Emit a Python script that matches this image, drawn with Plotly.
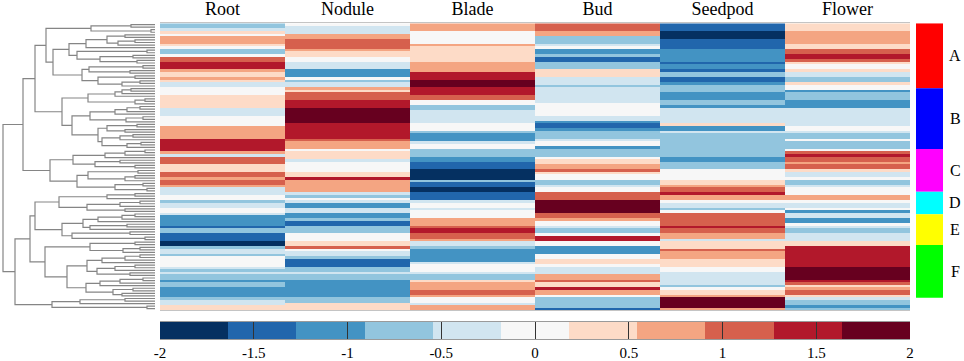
import plotly.graph_objects as go

# ---- value levels (bin centres of the 11-class RdBu scale, -2..2) ----
N, B2, B3, L, VL, W, P, S, R, DR, M = -1.8, -1.5, -1.1, -0.7, -0.4, 0.0, 0.4, 0.7, 1.1, 1.5, 1.8

tissues = ["Root", "Nodule", "Blade", "Bud", "Seedpod", "Flower"]

root = [L, L, VL, P, W, S, S, S, P, W,
        L, L, W, R, R, DR, DR, DR, S, P,
        P, S, P, VL, VL, W, W, W, P, P,
        P, P, P, VL, VL, VL, W, W, W, W,
        S, S, S, S, S, DR, DR, DR, DR, DR,
        S, VL, R, R, R, P, P, P, R, R,
        S, R, R, S, VL, VL, VL, W, W, L,
        VL, VL, W, W, VL, B3, B3, B3, B3, B2,
        L, L, B2, B2, B2, N, N, L, VL, VL,
        L, W, W, W, W, VL, L, VL, L, L,
        B3, L, L, B3, B3, B3, B3, L, VL, VL,
        P, P]

nodule = [W, VL, VL, VL, S, S, R, R, R, R,
          S, P, P, W, W, VL, VL, VL, B3, B3,
          B3, W, L, VL, VL, S, P, R, R, R,
          DR, DR, DR, M, M, M, M, M, M, DR,
          DR, DR, DR, DR, DR, R, S, S, S, W,
          P, P, P, VL, W, W, W, W, P, P,
          DR, S, S, S, S, S, VL, L, W, VL,
          B3, B3, VL, VL, B3, B3, L, B2, B2, L,
          L, L, W, W, W, P, P, R, W, VL,
          VL, L, B2, B2, B2, L, L, VL, L, L,
          B3, B3, B3, B3, B3, B3, B3, L, L, P,
          P, P]

blade = [S, S, S, W, W, W, W, W, S, P,
         P, P, P, P, P, S, S, S, S, DR,
         DR, DR, M, M, M, DR, DR, DR, R, R,
         W, W, L, L, VL, VL, VL, VL, VL, W,
         W, W, L, B3, B3, B3, VL, W, W, L,
         L, L, B3, B3, B2, B2, B2, N, N, N,
         N, L, B2, B2, N, N, B2, B2, B2, VL,
         W, W, VL, W, W, W, S, S, S, R,
         DR, DR, R, R, S, VL, VL, L, B3, B3,
         B3, B3, B3, VL, W, W, W, VL, L, L,
         P, S, S, S, R, R, S, W, W, VL,
         S, S]

bud = [R, R, R, S, S, L, L, L, VL, W,
       B3, B3, L, B2, B2, L, L, L, P, P,
       P, VL, VL, VL, L, VL, VL, VL, VL, VL,
       VL, W, W, W, W, W, VL, VL, B3, B2,
       B2, B3, L, L, L, VL, W, W, B3, L,
       L, L, W, P, P, S, S, R, P, W,
       W, L, L, VL, W, W, R, R, R, M,
       M, M, M, M, R, R, S, W, W, VL,
       L, L, W, DR, DR, W, W, B3, B3, B3,
       W, W, P, P, W, VL, VL, VL, S, S,
       R, P, P, DR, S, S, W, L, L, L,
       L, B2]

seedpod = [B2, B2, B2, N, N, N, B2, B2, B2, B2,
           B3, B3, B3, B3, B3, B2, B3, B3, B2, L,
           L, B2, B2, B3, L, L, L, B3, B3, B3,
           L, L, B3, VL, VL, VL, VL, VL, VL, P,
           B3, B3, VL, L, L, L, L, L, L, L,
           L, L, B3, B3, L, L, L, W, W, W,
           W, P, P, S, R, R, DR, S, S, W,
           VL, VL, L, W, R, R, R, R, R, DR,
           R, R, S, S, VL, P, P, P, R, S,
           S, S, P, P, P, W, W, VL, VL, VL,
           VL, VL, L, W, P, P, S, M, M, M,
           M, S]

flower = [P, P, P, S, S, S, S, S, P, P,
          R, R, DR, DR, R, P, W, W, P, VL,
          VL, L, L, P, W, W, B3, L, L, L,
          B3, B3, B3, VL, VL, VL, VL, VL, VL, VL,
          W, W, VL, L, L, W, L, L, L, W,
          R, DR, R, R, S, R, R, P, VL, VL,
          W, L, L, VL, W, W, W, S, S, W,
          VL, VL, W, B3, VL, VL, B3, B3, W, VL,
          L, L, VL, VL, VL, P, P, DR, DR, DR,
          DR, DR, DR, DR, DR, M, M, M, M, M,
          DR, R, P, S, R, R, P, VL, L, L,
          B3, L]

columns = [root, nodule, blade, bud, seedpod, flower]

colorbar_ticks = [-2, -1.5, -1, -0.5, 0, 0.5, 1, 1.5, 2]
colorbar_ticktext = ["-2", "-1.5", "-1", "-0.5", "0", "0.5", "1", "1.5", "2"]

scale_colors = ["#053061", "#2166ac", "#4393c3", "#92c5de", "#d1e5f0", "#f7f7f7",
                "#fddbc7", "#f4a582", "#d6604d", "#b2182b", "#67001f"]
scale_levels = [N, B2, B3, L, VL, W, P, S, R, DR, M]

cluster_names = ["A", "B", "C", "D", "E", "F"]
cluster_sizes = [25.4, 23.7, 16.7, 8.8, 12.0, 20.6]   # in rows
cluster_colors = ["#ff0000", "#0000ff", "#ff00ff", "#00ffff", "#ffff00", "#00ff00"]

# dendrogram topology (leaf = '*', number after ')' = merge height)
X_ = "((*,*)24,(*,*)4)64"
A_ = "(((*,*)30,((*,*)20,*)37)48,*)69"
B_ = "((*,*)8,((*,*)22,(*,*)18)55)78"
Y170_ = "(((*,*)12,(*,*)25)66,((*,*)20,((*,*)15,*)33)57)73"
Z1_ = "((((*,*)24,*)33,*)40,((*,*)10,*)20)67"
Z2a_ = "((((*,*)15,*)28,*)40,((*,*)12,*)29)65"
Z2b_ = "(((*,*)18,(*,*)30)48,(((*,*)22,*)35,((*,*)14,*)28)53)57"
U1_ = "((((*,*)10,*)30,*)50,((*,*)35,(*,*)20)60)82"
U2_ = "(((*,*)17,((*,*)20,*)30)67,((*,*)12,(*,*)8)40)78"
V1a_ = "(((*,*)20,*)48,(((*,*)15,*)35,(*,*)30)68)96"
V1b1_ = "((((*,*)20,*)33,*)57,((*,*)28,*)65)72"
V1b2_ = "((*,*)25,(*,*)10)83"
V2a_ = "((*,*)20,((*,*)15,*)32)65"
V2b1_ = "((((*,*)15,*)30,*)53,(((*,*)20,*)40,(*,*)25)58)68"
V2b2_ = "((((*,*)12,*)35,*)55,((*,*)22,(*,*)33)42)69"
Bsm_ = "(((*,*)30,*)75,(*,*)8)103"

T1a_ = "(" + X_ + ",((" + A_ + "," + B_ + ")86," + Y170_ + ")102)109"
T1b_ = "(" + Z1_ + ",(" + Z2a_ + "," + Z2b_ + ")83)93"
T1_ = "(" + T1a_ + "," + T1b_ + ")120"
T2_ = "(" + U1_ + "," + U2_ + ")105"
TOP_ = "(" + T1_ + "," + T2_ + ")132"
V1_ = "(" + V1a_ + ",(" + V1b1_ + "," + V1b2_ + ")93)120"
V2_ = "(" + V2a_ + ",(" + V2b1_ + "," + V2b2_ + ")88)110"
B1_ = "(" + V1_ + "," + V2_ + ")125"
BOT_ = "(" + B1_ + "," + Bsm_ + ")140"
tree = "(" + TOP_ + "," + BOT_ + ")152"

# ---------------------------------------------------------------------------
n_rows = len(root)
z = [[col[i] for col in columns] for i in range(n_rows)]

cs = []
for k, c in enumerate(scale_colors):
    cs.append([k / 11, c])
    cs.append([(k + 1) / 11, c])

class Parser:
    def __init__(self, s):
        self.s = s
        self.i = 0
        self.leaf = 0
        self.segs_x = []
        self.segs_y = []

    def node(self):
        if self.s[self.i] == "*":
            self.i += 1
            y = self.leaf
            self.leaf += 1
            return y, 0.0
        self.i += 1
        y1, h1 = self.node()
        self.i += 1
        y2, h2 = self.node()
        self.i += 1
        j = self.i
        while j < len(self.s) and (self.s[j].isdigit() or self.s[j] == "."):
            j += 1
        h = float(self.s[self.i:j])
        self.i = j
        self.segs_x += [h1, h, h, h2, None]
        self.segs_y += [y1, y1, y2, y2, None]
        return (y1 + y2) / 2, h

p = Parser(tree)
p.node()

FW, FH = 964, 361
serif = "Liberation Serif, Times New Roman, serif"

fig = go.Figure()

fig.add_trace(go.Heatmap(
    z=z, x=tissues, y=list(range(n_rows)), zmin=-2, zmax=2, colorscale=cs,
    xaxis="x", yaxis="y", hoverinfo="skip", showscale=False))

edges = [-2 + 4 * k / 11 for k in range(12)]
fig.add_trace(go.Heatmap(
    z=[scale_levels], x=edges, y=[0, 1], zmin=-2, zmax=2, colorscale=cs,
    xaxis="x4", yaxis="y4", hoverinfo="skip", showscale=False))

fig.add_trace(go.Scatter(x=p.segs_x, y=p.segs_y, mode="lines", xaxis="x2", yaxis="y",
                         line=dict(color="#858585", width=1.2), hoverinfo="skip",
                         showlegend=False))

start = -0.5
for name, size, col in zip(cluster_names, cluster_sizes, cluster_colors):
    fig.add_trace(go.Bar(x=[0], y=[size], base=[start], width=1,
                         marker=dict(color=col, line=dict(width=0)),
                         xaxis="x3", yaxis="y", showlegend=False, hoverinfo="skip"))
    fig.add_annotation(x=955 / FW, xref="paper", y=start + size / 2, yref="y", text=name,
                       showarrow=False, font=dict(family=serif, size=16, color="black"),
                       xanchor="center", yanchor="middle")
    start += size

ydom = [1 - 310 / FH, 1 - 23.3 / FH]
fig.update_layout(
    width=FW, height=FH, margin=dict(l=0, r=0, t=0, b=0, autoexpand=False), autosize=False,
    paper_bgcolor="white", plot_bgcolor="white", showlegend=False, barmode="overlay",
    xaxis=dict(domain=[160 / FW, 910 / FW], side="top", showgrid=False, zeroline=False,
               showline=True, mirror=True, linecolor="#c4c4c4", linewidth=1, ticks="",
               tickfont=dict(family=serif, size=18, color="black"), automargin=False),
    yaxis=dict(domain=ydom, range=[n_rows - 0.5, -0.5], showgrid=False, zeroline=False,
               showticklabels=False, showline=False, ticks="", automargin=False),
    xaxis2=dict(domain=[0, 160 / FW], range=[155, -5], showgrid=False, zeroline=False,
                showticklabels=False, showline=False, ticks=""),
    xaxis3=dict(domain=[916 / FW, 943 / FW], range=[-0.5, 0.5], showgrid=False, zeroline=False,
                showticklabels=False, showline=False, ticks=""),
    xaxis4=dict(domain=[160 / FW, 910 / FW], range=[-2, 2], anchor="y4", showgrid=False,
                zeroline=False, showline=True, mirror=True, linecolor="#9a9a9a", linewidth=1,
                tickmode="array", tickvals=colorbar_ticks, ticktext=colorbar_ticktext,
                ticks="inside", ticklen=17, tickwidth=1, tickcolor="#333333",
                tickfont=dict(family=serif, size=15, color="black"), automargin=False),
    yaxis4=dict(domain=[1 - 339 / FH, 1 - 322 / FH], range=[0, 1], anchor="x4",
                showgrid=False, zeroline=False, showticklabels=False, ticks="", automargin=False),
)

fig.write_html("out.html", config={"responsive": False, "displayModeBar": False},
               post_script="document.body.style.margin='0';document.body.style.overflow='hidden';"
                           "document.documentElement.style.overflow='hidden';")
